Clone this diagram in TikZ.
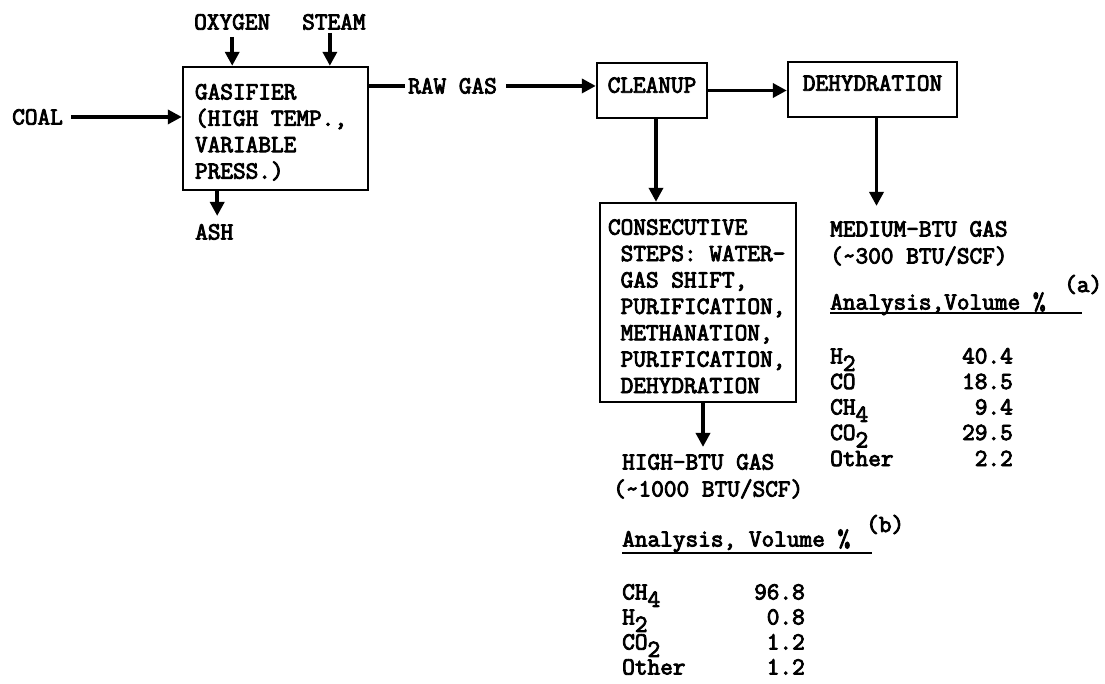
\documentclass[tikz,border=0pt]{standalone}
\usepackage{fontspec}
\newfontfamily\typewriter[FakeBold=3.5, WordSpace={1,0,0}]{Latin Modern Mono}
\usetikzlibrary{arrows.meta}
\newcommand{\lowsub}[1]{\raisebox{-0.3em}{#1}}
\newcommand{\stepin}{\phantom{C}}
\newcommand{\firstline}{\rule{0pt}{23pt}}
\tikzset{
  every node/.style={font=\typewriter\fontsize{24.6}{26.4}\selectfont},
  unitbox/.style={draw, line width=2.4pt, inner sep=0pt},
  streamtext/.style={inner sep=0pt, anchor=base west},
  valtext/.style={inner sep=0pt, anchor=base east},
  flowarrow/.style={line width=3.6pt, -{Triangle[width=14pt,length=14pt]}},
  pipeline/.style={line width=3.6pt},
}
\begin{document}
\begin{tikzpicture}[x=1pt, y=-1pt]
\useasboundingbox (0,0) rectangle (1105,684);
% process units
\node[unitbox, minimum width=185pt, minimum height=123pt, text width=161pt, align=flush left] (gasifier) at (275.5,128.5) {\firstline GASIFIER\\(HIGH TEMP.,\\VARIABLE\\PRESS.)};
\node[unitbox, minimum width=110pt, minimum height=55pt, text depth=11pt] (cleanup) at (652,90.5) {CLEANUP};
\node[unitbox, minimum width=169pt, minimum height=55pt, text depth=13pt] (dehydration) at (872.5,89.5) {DEHYDRATION};
\node[unitbox, minimum width=196pt, minimum height=199pt, text width=180pt, align=flush left] (consecutive) at (698,302.5) {\firstline CONSECUTIVE\\\stepin STEPS: WATER-\\\stepin GAS SHIFT,\\\stepin PURIFICATION,\\\stepin METHANATION,\\\stepin PURIFICATION,\\\stepin DEHYDRATION};
% streams
\node[streamtext] (coal) at (12,124.5) {COAL};
\node[streamtext] (oxygen) at (194,29.5) {OXYGEN};
\node[streamtext] (steam) at (302,29.5) {STEAM};
\node[streamtext] (ash) at (195,239.5) {ASH};
\node[streamtext] (rawgas) at (408,93.5) {RAW GAS};
\node[streamtext] (medgas) at (830,236.5) {MEDIUM-BTU GAS};
\node[streamtext] (medheat) at (830,263.5) {(\textasciitilde300 BTU/SCF)};
\node[streamtext] (highgas) at (622,469.5) {HIGH-BTU GAS};
\node[streamtext] (highheat) at (613,496.5) {(\textasciitilde1000 BTU/SCF)};
\draw[flowarrow, shorten <=8pt] (coal.east) -- (coal.east -| gasifier.west);
\draw[flowarrow, shorten <=7pt] (oxygen.south) -- (oxygen.south |- gasifier.north);
\draw[flowarrow, shorten <=3pt] ([xshift=-4pt]steam.south) -- ([xshift=-4pt]steam.south |- gasifier.north);
\draw[flowarrow, shorten >=8pt] ([xshift=3pt]ash.north |- gasifier.south) -- ([xshift=3pt]ash.north);
\draw[pipeline, shorten >=3pt] (gasifier.east |- rawgas.west) -- (rawgas.west);
\draw[flowarrow, shorten <=9pt] (rawgas.east) -- (rawgas.east -| cleanup.west);
\draw[flowarrow] (cleanup.east) -- (cleanup.east -| dehydration.west);
\draw[flowarrow] ([xshift=4pt]cleanup.south) -- ([xshift=4pt]cleanup.south |- consecutive.north);
\draw[flowarrow, shorten >=15pt] ([xshift=4pt]dehydration.south) -- ([xshift=4pt]dehydration.south |- medgas.north);
\draw[flowarrow, shorten >=7pt] ([xshift=5pt]consecutive.south) -- ([xshift=5pt]consecutive.south |- highgas.north);
% analysis (a)
\node[streamtext] (anaA) at (830,309.5) {Analysis,Volume \%};
\node[streamtext] (noteA) at (1064,292) {(a)};
\draw[line width=2pt] ([yshift=-4pt]anaA.base west) -- ++(252,0);
\node[streamtext] (a-h2) at (830,363.5) {H\lowsub{2}};
\node[streamtext] (a-co) at (830,389) {CO};
\node[streamtext] (a-ch4) at (830,414.5) {CH\lowsub{4}};
\node[streamtext] (a-co2) at (830,440) {CO\lowsub{2}};
\node[streamtext] (a-other) at (830,466) {Other};
\node[valtext] (a-h2v) at (1013,363.5) {40.4};
\node[valtext] (a-cov) at (1013,389) {18.5};
\node[valtext] (a-ch4v) at (1013,414.5) {9.4};
\node[valtext] (a-co2v) at (1013,440) {29.5};
\node[valtext] (a-otherv) at (1013,466) {2.2};
% analysis (b)
\node[streamtext] (anaB) at (622,546.5) {Analysis, Volume \%};
\node[streamtext] (noteB) at (866,532) {(b)};
\draw[line width=2pt] ([yshift=-6pt]anaB.base west) -- ++(250,0);
\node[streamtext] (b-ch4) at (622,599.5) {CH\lowsub{4}};
\node[streamtext] (b-h2) at (622,624.5) {H\lowsub{2}};
\node[streamtext] (b-co2) at (622,649.5) {CO\lowsub{2}};
\node[streamtext] (b-other) at (622,674.5) {Other};
\node[valtext] (b-ch4v) at (805,599.5) {96.8};
\node[valtext] (b-h2v) at (805,624.5) {0.8};
\node[valtext] (b-co2v) at (805,649.5) {1.2};
\node[valtext] (b-otherv) at (805,674.5) {1.2};
\end{tikzpicture}
\end{document}
